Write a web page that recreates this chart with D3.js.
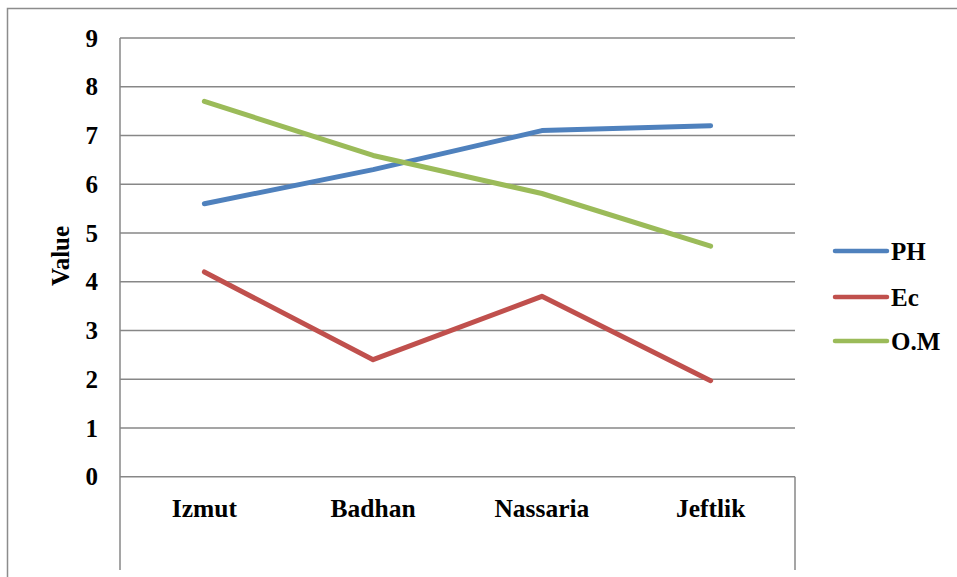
<!DOCTYPE html>
<html>
<head>
<meta charset="utf-8">
<script src="https://d3js.org/d3.v7.min.js"></script>
<style>
  body { margin: 0; background: #fff; }
  text { font-family: "Liberation Serif", "Times New Roman", serif; font-weight: bold; fill: #000; }
</style>
</head>
<body>
<div id="chart"></div>
<script>
var w = 957, h = 577;

// data
var categories = ["Izmut", "Badhan", "Nassaria", "Jeftlik"];
var seriesNames = ["PH", "Ec", "O.M"];
var seriesColors = ["#4F81BD", "#C0504D", "#9BBB59"];
var phValues = [5.6, 6.3, 7.1, 7.2];
var ecValues = [4.2, 2.4, 3.7, 1.97];
var omValues = [7.7, 6.59, 5.81, 4.73];
var yTicks = [0, 1, 2, 3, 4, 5, 6, 7, 8, 9];

var plot = { left: 120, right: 795, top: 38, zero: 476.7, bottom: 570 };

var svg = d3.select("#chart")
    .append("svg")
    .attr("width", w)
    .attr("height", h);

// outer chart frame (only top and left edges show)
svg.append("path")
    .attr("d", "M7.5," + h + "V8.5H" + w)
    .attr("fill", "none")
    .attr("stroke", "#8c8c8c")
    .attr("stroke-width", 1.5);

var x = d3.scaleBand()
    .domain(categories)
    .range([plot.left, plot.right]);

var y = d3.scaleLinear()
    .domain([0, 9])
    .range([plot.zero, plot.top]);

// gridlines
svg.append("g")
    .selectAll("line")
    .data(yTicks)
    .enter()
    .append("line")
    .attr("x1", plot.left)
    .attr("x2", plot.right)
    .attr("y1", function(d) { return y(d); })
    .attr("y2", function(d) { return y(d); })
    .attr("stroke", "#878787")
    .attr("stroke-width", 1.5);

// left axis line down to bottom, right line below zero only
svg.append("line")
    .attr("x1", plot.left).attr("x2", plot.left)
    .attr("y1", plot.top).attr("y2", plot.bottom)
    .attr("stroke", "#878787").attr("stroke-width", 1.5);
svg.append("line")
    .attr("x1", plot.right).attr("x2", plot.right)
    .attr("y1", plot.zero).attr("y2", plot.bottom)
    .attr("stroke", "#878787").attr("stroke-width", 1.5);

// y tick labels
svg.append("g")
    .selectAll("text")
    .data(yTicks)
    .enter()
    .append("text")
    .attr("x", 98)
    .attr("y", function(d) { return y(d); })
    .attr("dy", "0.35em")
    .attr("text-anchor", "end")
    .style("font-size", "25px")
    .text(function(d) { return d; });

// category labels
svg.append("g")
    .selectAll("text")
    .data(categories)
    .enter()
    .append("text")
    .attr("x", function(d) { return x(d) + x.bandwidth() / 2; })
    .attr("y", 517)
    .attr("text-anchor", "middle")
    .style("font-size", "25.5px")
    .text(function(d) { return d; });

// axis title
svg.append("text")
    .attr("transform", "translate(69,256) rotate(-90)")
    .attr("text-anchor", "middle")
    .style("font-size", "25px")
    .text("Value");

var line = d3.line()
    .x(function(d, i) { return x(categories[i]) + x.bandwidth() / 2; })
    .y(function(d) { return y(d); });

var allSeries = [phValues, ecValues, omValues];

svg.append("g")
    .selectAll("path")
    .data(allSeries)
    .enter()
    .append("path")
    .attr("d", line)
    .attr("fill", "none")
    .attr("stroke", function(d, i) { return seriesColors[i]; })
    .attr("stroke-width", 5)
    .attr("stroke-linecap", "round")
    .attr("stroke-linejoin", "round");

// legend
var legendY = [251, 297, 341];
var legend = svg.append("g")
    .selectAll("g")
    .data(seriesNames)
    .enter()
    .append("g")
    .attr("transform", function(d, i) { return "translate(0," + legendY[i] + ")"; });

legend.append("line")
    .attr("x1", 835).attr("x2", 887)
    .attr("y1", 0).attr("y2", 0)
    .attr("stroke", function(d, i) { return seriesColors[i]; })
    .attr("stroke-width", 4.5)
    .attr("stroke-linecap", "round");

legend.append("text")
    .attr("x", 891)
    .attr("y", 0)
    .attr("dy", "0.35em")
    .style("font-size", "25px")
    .text(function(d) { return d; });
</script>
</body>
</html>
